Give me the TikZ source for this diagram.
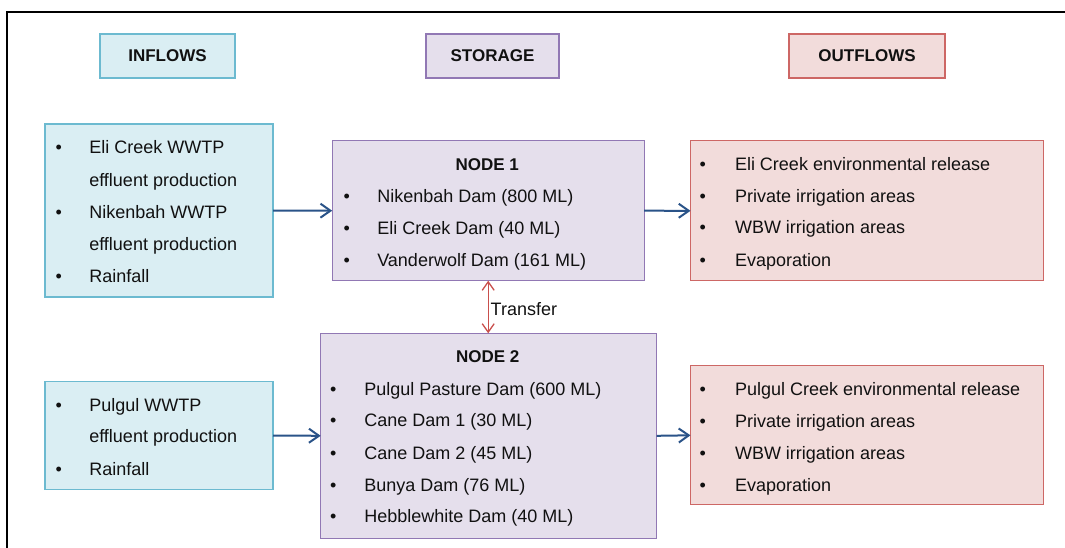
\documentclass[tikz,border=0pt]{standalone}
\usepackage{fontspec}
\setmainfont{Liberation Sans}
\usetikzlibrary{arrows.meta}
\definecolor{inFill}{HTML}{DAEEF3}
\definecolor{inLine}{HTML}{6CBAD0}
\definecolor{stFill}{HTML}{E5DFEC}
\definecolor{stLine}{HTML}{9178B4}
\definecolor{outFill}{HTML}{F2DCDB}
\definecolor{outLine}{HTML}{CD6765}
\definecolor{flow}{HTML}{2A5388}
\definecolor{xfer}{HTML}{C94F4C}
\definecolor{ink}{HTML}{111111}
\begin{document}
\begin{tikzpicture}[x=1pt,y=-1pt,
  every node/.style={inner sep=0pt, outer sep=0pt, text=ink},
  txt/.style={font=\fontsize{18}{21}\selectfont},
  item/.style={txt, anchor=base west},
  dot/.style={txt, anchor=base},
  head/.style={font=\fontsize{17}{20}\selectfont\bfseries},
  inbox/.style={draw=inLine, fill=inFill, line width=1.2pt},
  stbox/.style={draw=stLine, fill=stFill, line width=1.2pt},
  outbox/.style={draw=outLine, fill=outFill, line width=1.2pt},
  flowarrow/.style={draw=flow, line width=2pt, -{Straight Barb[length=10pt,width=14pt]}},
  xferarrow/.style={draw=xfer, line width=1.3pt, {Straight Barb[length=8.5pt,width=12pt]}-{Straight Barb[length=8.5pt,width=12pt]}}
]
\useasboundingbox (0,0) rectangle (1065,547);
% page frame
\draw[line width=2.2pt] (7,548) -- (7,12) -- (1066,12);

% column headings
\node[inbox, head, minimum width=135pt, minimum height=44pt] (hin) at (167.5,56) {INFLOWS};
\node[stbox, head, minimum width=133pt, minimum height=44pt] (hst) at (492.5,56) {STORAGE};
\node[outbox, head, minimum width=156pt, minimum height=44pt] (hout) at (867,56) {OUTFLOWS};

% inflow panels
\node[inbox, minimum width=228pt, minimum height=173pt] (in1) at (159,210.5) {};
\node[inbox, minimum width=228pt, minimum height=108pt] (in2) at (159,435.5) {};

% storage nodes
\node[stbox, minimum width=312pt, minimum height=140pt] (n1) at (488.2,210.7) {};
\node[stbox, minimum width=336pt, minimum height=205pt] (n2) at (488.7,435.8) {};

% outflow panels
\node[outbox, minimum width=353pt, minimum height=140pt] (out1) at (867,210.8) {};
\node[outbox, minimum width=353pt, minimum height=139pt] (out2) at (867,435.3) {};

% inflow lists
\node[dot] (in1b1) at (58.7,153.7) {•};
\node[item] (in1t1) at (89.3,153.7) {Eli Creek WWTP};
\node[item] (in1t2) at (89.3,186) {effluent production};
\node[dot] (in1b3) at (58.7,218.5) {•};
\node[item] (in1t3) at (89.3,218.5) {Nikenbah WWTP};
\node[item] (in1t4) at (89.3,250.5) {effluent production};
\node[dot] (in1b5) at (58.7,282) {•};
\node[item] (in1t5) at (89.3,282) {Rainfall};

\node[dot] (in2b1) at (58.7,411) {•};
\node[item] (in2t1) at (89.3,411) {Pulgul WWTP};
\node[item] (in2t2) at (89.3,442.7) {effluent production};
\node[dot] (in2b3) at (58.7,475) {•};
\node[item] (in2t3) at (89.3,475) {Rainfall};

% storage lists
\node[head, anchor=base] (n1h) at (487.3,170) {NODE 1};
\foreach \y/\t [count=\i] in {202.7/Nikenbah Dam (800 ML), 234.3/Eli Creek Dam (40 ML), 266/Vanderwolf Dam (161 ML)}{
  \node[dot] (n1b\i) at (346.7,\y) {•};
  \node[item] (n1t\i) at (377.3,\y) {\t};
}
\node[head, anchor=base] (n2h) at (487.7,362.7) {NODE 2};
\foreach \y/\t [count=\i] in {395.3/Pulgul Pasture Dam (600 ML), 426.7/Cane Dam 1 (30 ML), 459/Cane Dam 2 (45 ML), 491/Bunya Dam (76 ML), 522.7/Hebblewhite Dam (40 ML)}{
  \node[dot] (n2b\i) at (333.3,\y) {•};
  \node[item] (n2t\i) at (364.3,\y) {\t};
}

% outflow lists
\foreach \y/\t [count=\i] in {170/Eli Creek environmental release, 202/Private irrigation areas, 233.7/WBW irrigation areas, 266/Evaporation}{
  \node[dot] (o1b\i) at (702.7,\y) {•};
  \node[item] (o1t\i) at (735,\y) {\t};
}
\foreach \y/\t [count=\i] in {395.3/Pulgul Creek environmental release, 427/Private irrigation areas, 459/WBW irrigation areas, 491/Evaporation}{
  \node[dot] (o2b\i) at (702.7,\y) {•};
  \node[item] (o2t\i) at (735,\y) {\t};
}

% flows
\draw[flowarrow] (in1.east) -- (n1.west);
\draw[flowarrow] (n1.east) -- (out1.west);
\draw[flowarrow] (in2.east) -- (n2.west);
\draw[flowarrow] (n2.east) -- (out2.west);

% transfer between storage nodes
\draw[xferarrow] (n1.south) -- (n1.south |- n2.north);
\node[item, font=\fontsize{18}{21}\selectfont] (xlab) at (490.7,315) {Transfer};
\end{tikzpicture}
\end{document}
